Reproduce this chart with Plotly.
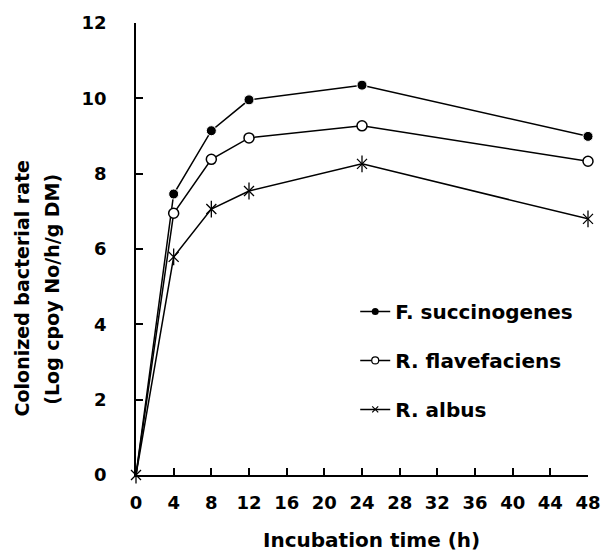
import plotly.graph_objects as go

hours = [0, 4, 8, 12, 24, 48]
f_succ = [0, 7.46, 9.14, 9.96, 10.35, 8.99]
r_flav = [0, 6.95, 8.38, 8.95, 9.27, 8.33]
r_albus = [0, 5.79, 7.06, 7.54, 8.26, 6.80]
names = ["F. succinogenes", "R. flavefaciens", "R. albus"]
x_ticks = list(range(0, 49, 4))
y_ticks = list(range(0, 13, 2))

FONT = "DejaVu Sans"
LINE = dict(color="black", width=1.5)
# at the origin only the asterisk is visible in the original
circle_sizes = [0 if h == 0 else 10 for h in hours]

fig = go.Figure()
fig.add_trace(go.Scatter(x=hours, y=f_succ, mode="lines+markers", showlegend=False, line=LINE,
                         cliponaxis=False,
                         marker=dict(symbol="circle", size=circle_sizes, color="black", opacity=1,
                                     sizemode="diameter", sizeref=1)))
fig.add_trace(go.Scatter(x=hours, y=r_flav, mode="lines+markers", showlegend=False, line=LINE,
                         cliponaxis=False,
                         marker=dict(symbol="circle", size=circle_sizes, color="white", opacity=1,
                                     sizemode="diameter", sizeref=1,
                                     line=dict(color="black", width=1.5))))
fig.add_trace(go.Scatter(x=hours, y=r_albus, mode="lines+markers", showlegend=False, line=LINE,
                         cliponaxis=False,
                         marker=dict(symbol="x-thin-open", size=10, color="black",
                                     line=dict(color="black", width=1.3))))
fig.add_trace(go.Scatter(x=hours, y=r_albus, mode="markers", showlegend=False,
                         cliponaxis=False,
                         marker=dict(symbol="line-ns-open", size=12, color="black",
                                     line=dict(color="black", width=1.3))))
# legend entries (smaller markers, as in the original)
fig.add_trace(go.Scatter(x=[None], y=[None], mode="lines+markers", name=names[0], line=LINE,
                         marker=dict(symbol="circle", size=7, color="black"), legendgroup="a"))
fig.add_trace(go.Scatter(x=[None], y=[None], mode="lines+markers", name=names[1], line=LINE,
                         marker=dict(symbol="circle", size=7, color="white",
                                     line=dict(color="black", width=1.2)), legendgroup="b"))
fig.add_trace(go.Scatter(x=[None], y=[None], mode="lines+markers", name=names[2], line=LINE,
                         marker=dict(symbol="x-thin-open", size=6, color="black",
                                     line=dict(color="black", width=1.2)), legendgroup="c"))

fig.update_layout(
    width=613, height=555,
    margin=dict(l=136, r=19, t=19, b=80),
    plot_bgcolor="white", paper_bgcolor="white",
    font=dict(family=FONT, size=18, color="black"),
    showlegend=True,
    legend=dict(x=0.485, y=0.405, xanchor="left", yanchor="top",
                bgcolor="rgba(0,0,0,0)", tracegroupgap=20,
                font=dict(family=FONT, size=20, color="black", weight="bold")),
    xaxis=dict(range=[0, 48], tickvals=x_ticks, ticktext=[str(v) for v in x_ticks],
               showgrid=False, zeroline=False, showline=True, linecolor="black", linewidth=1.5,
               ticks="inside", ticklen=7, tickwidth=1.5, tickcolor="black",
               ticklabelstandoff=11,
               tickfont=dict(family=FONT, size=18, weight="bold")),
    yaxis=dict(range=[0, 12], tickvals=y_ticks, ticktext=[str(v) for v in y_ticks],
               showgrid=False, zeroline=False, showline=True, linecolor="black", linewidth=1.5,
               ticks="inside", ticklen=7, tickwidth=1.5, tickcolor="black",
               ticklabelstandoff=24,
               tickfont=dict(family=FONT, size=18, weight="bold")),
)
fig.add_annotation(xref="paper", yref="paper", x=0.52, y=-0.143, xanchor="center", yanchor="middle",
                   text="Incubation time (h)", showarrow=False,
                   font=dict(family=FONT, size=20, weight="bold"))
fig.add_annotation(xref="paper", yref="paper", x=-0.253, y=0.412, xanchor="center", yanchor="middle",
                   text="Colonized bacterial rate", textangle=-90,
                   showarrow=False, font=dict(family=FONT, size=19, weight="bold"))
fig.add_annotation(xref="paper", yref="paper", x=-0.186, y=0.412, xanchor="center", yanchor="middle",
                   text="(Log cpoy No/h/g DM)", textangle=-90,
                   showarrow=False, font=dict(family=FONT, size=19, weight="bold"))
fig.write_html("out.html")
